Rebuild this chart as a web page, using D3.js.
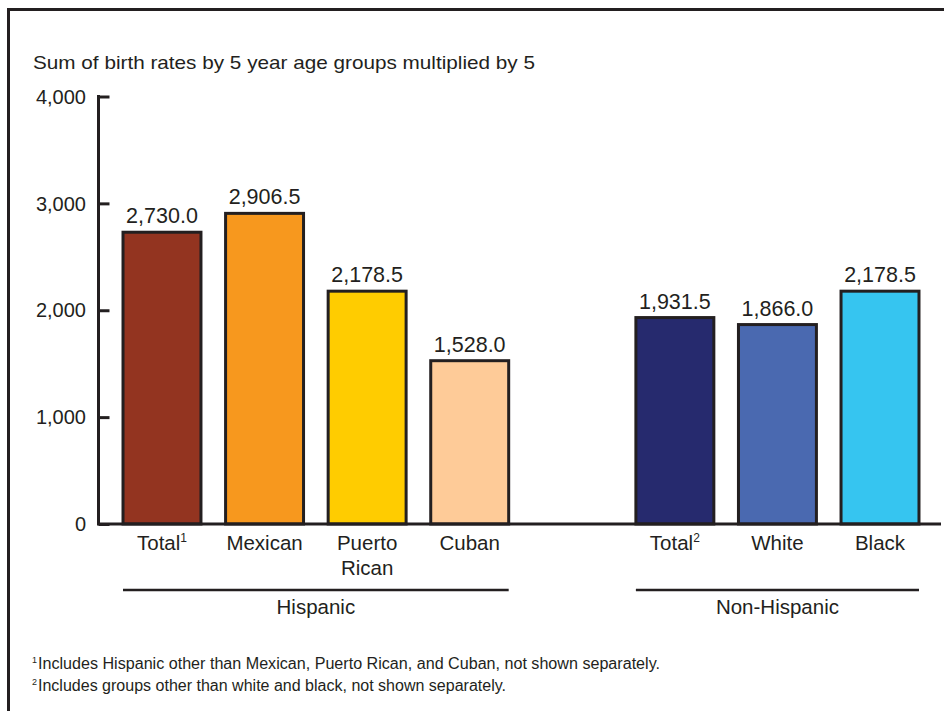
<!DOCTYPE html>
<html>
<head>
<meta charset="utf-8">
<script src="https://cdn.jsdelivr.net/npm/d3@7"></script>
<style>
  html, body { margin: 0; padding: 0; background: #fff; }
  svg text { font-family: "Liberation Sans", Arial, sans-serif; fill: #231f20; }
</style>
</head>
<body>
<svg id="chart" width="944" height="711"></svg>
<script>
// ---- Data ----
const categories = ["Total", "Mexican", "Puerto Rican", "Cuban", "Total", "White", "Black"];
const categoryKeys = ["h_total", "mexican", "puerto_rican", "cuban", "nh_total", "white", "black"];
const superscripts = ["1", "", "", "", "2", "", ""];
const values = [2730.0, 2906.5, 2178.5, 1528.0, 1931.5, 1866.0, 2178.5];
const barColors = ["#933420", "#f7981e", "#ffcc00", "#fecb98", "#262a6e", "#4a69b0", "#36c5f0"];
const groups = ["Hispanic", "Non-Hispanic"];
const groupMembers = [["h_total", "mexican", "puerto_rican", "cuban"], ["nh_total", "white", "black"]];
const yTicks = [0, 1000, 2000, 3000, 4000];
const yTitle = "Sum of birth rates by 5 year age groups multiplied by 5";
const footnotes = [
  ["1", "Includes Hispanic other than Mexican, Puerto Rican, and Cuban, not shown separately."],
  ["2", "Includes groups other than white and black, not shown separately."]
];
const footnoteWidths = [622, 468];

const ink = "#231f20";
const svg = d3.select("#chart");

// Frame (left and top borders)
svg.append("path")
  .attr("d", "M8.5,711 V9.5 H944")
  .attr("fill", "none").attr("stroke", ink).attr("stroke-width", 3);

// Scales
const slotDomain = ["h_total", "mexican", "puerto_rican", "cuban", "gap", "nh_total", "white", "black"];
const x = d3.scaleBand().domain(slotDomain).range([110.7, 931.3]).paddingInner(0.24).paddingOuter(0.12);
const y = d3.scaleLinear().domain([0, 4000]).range([524, 96.5]);

const axisX = 98.5;

// Y axis
const yAxis = d3.axisRight(y).tickValues(yTicks).tickSize(11).tickFormat("");
const gy = svg.append("g").attr("transform", `translate(${axisX},0)`).call(yAxis);
gy.select(".domain").remove();
gy.selectAll(".tick line").attr("stroke", ink).attr("stroke-width", 3);
svg.append("line").attr("x1", axisX).attr("x2", axisX).attr("y1", y(4000) - 1.5).attr("y2", y(0))
  .attr("stroke", ink).attr("stroke-width", 3);

svg.append("g").selectAll("text").data(yTicks).join("text")
  .attr("x", 86).attr("y", d => y(d)).attr("dy", "0.36em")
  .attr("text-anchor", "end").attr("font-size", 20)
  .text(d => d3.format(",")(d));

// Y title
svg.append("text").attr("x", 33).attr("y", 69).attr("font-size", 19)
  .attr("textLength", 502).attr("lengthAdjust", "spacingAndGlyphs")
  .text(yTitle);

// Bars
svg.append("g").selectAll("rect").data(values).join("rect")
  .attr("x", (d, i) => x(categoryKeys[i]))
  .attr("y", d => y(d))
  .attr("width", x.bandwidth())
  .attr("height", d => y(0) - y(d))
  .attr("fill", (d, i) => barColors[i])
  .attr("stroke", ink).attr("stroke-width", 3);

// Baseline
svg.append("line").attr("x1", axisX - 1.5).attr("x2", 941).attr("y1", y(0)).attr("y2", y(0))
  .attr("stroke", ink).attr("stroke-width", 3);

// Value labels
svg.append("g").selectAll("text").data(values).join("text")
  .attr("x", (d, i) => x(categoryKeys[i]) + x.bandwidth() / 2)
  .attr("y", d => y(d) - 9)
  .attr("text-anchor", "middle").attr("font-size", 21.5)
  .text(d => d3.format(",.1f")(d));

// Category labels
const catG = svg.append("g");
categories.forEach((c, i) => {
  const cx = x(categoryKeys[i]) + x.bandwidth() / 2;
  const lines = c === "Puerto Rican" ? ["Puerto", "Rican"] : [c];
  const t = catG.append("text").attr("text-anchor", "middle").attr("font-size", 20.5);
  lines.forEach((ln, k) => {
    t.append("tspan").attr("x", cx).attr("y", 550 + k * 25).text(ln);
    if (superscripts[i]) {
      t.append("tspan").attr("font-size", 12).attr("dy", -8).text(superscripts[i]);
    }
  });
});

// Group lines and labels
groups.forEach((g, gi) => {
  const mem = groupMembers[gi];
  const x0 = x(mem[0]);
  const x1 = x(mem[mem.length - 1]) + x.bandwidth();
  svg.append("line").attr("x1", x0).attr("x2", x1).attr("y1", 590).attr("y2", 590)
    .attr("stroke", ink).attr("stroke-width", 2.5);
  svg.append("text").attr("x", (x0 + x1) / 2).attr("y", 614)
    .attr("text-anchor", "middle").attr("font-size", 20.5).text(g);
});

// Footnotes
footnotes.forEach((f, i) => {
  svg.append("text").attr("x", 32).attr("y", 663 + i * 22).attr("font-size", 9).text(f[0]);
  svg.append("text").attr("x", 38).attr("y", 669 + i * 22).attr("font-size", 16)
    .attr("textLength", footnoteWidths[i]).attr("lengthAdjust", "spacingAndGlyphs")
    .text(f[1]);
});
</script>
</body>
</html>
